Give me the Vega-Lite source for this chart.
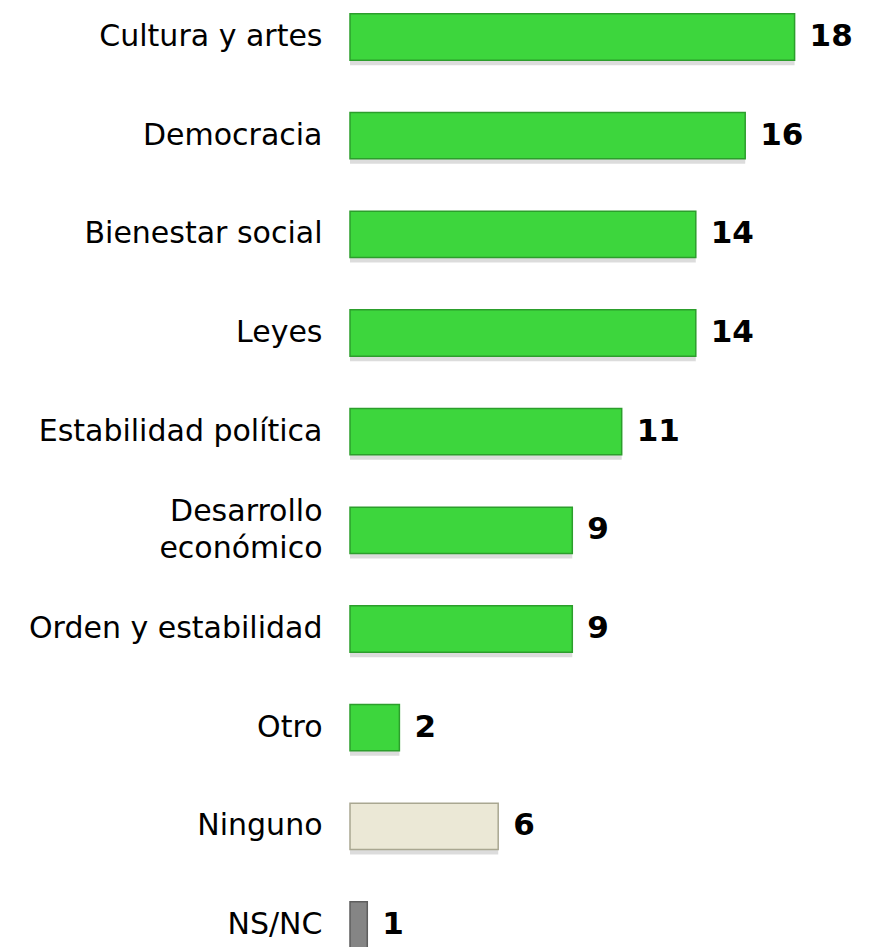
{
  "$schema": "https://vega.github.io/schema/vega-lite/v6.json",
  "autosize": "none",
  "padding": {"left": 350, "top": 0, "right": 27, "bottom": 0},
  "width": 494,
  "height": 962,
  "background": "white",
  "config": {"view": {"stroke": null}},
  "data": {
    "values": [
      {"categoria": "Cultura y artes", "valor": 18, "etiqueta": "18", "tipo": "tema"},
      {"categoria": "Democracia", "valor": 16, "etiqueta": "16", "tipo": "tema"},
      {"categoria": "Bienestar social", "valor": 14, "etiqueta": "14", "tipo": "tema"},
      {"categoria": "Leyes", "valor": 14, "etiqueta": "14", "tipo": "tema"},
      {"categoria": "Estabilidad política", "valor": 11, "etiqueta": "11", "tipo": "tema"},
      {"categoria": "Desarrollo\neconómico", "valor": 9, "etiqueta": "9", "tipo": "tema"},
      {"categoria": "Orden y estabilidad", "valor": 9, "etiqueta": "9", "tipo": "tema"},
      {"categoria": "Otro", "valor": 2, "etiqueta": "2", "tipo": "tema"},
      {"categoria": "Ninguno", "valor": 6, "etiqueta": "6", "tipo": "ninguno"},
      {"categoria": "NS/NC", "valor": 0.7, "etiqueta": "1", "tipo": "nsnc"}
    ]
  },
  "encoding": {
    "y": {
      "field": "categoria",
      "type": "nominal",
      "sort": null,
      "scale": {"paddingInner": 0.53, "paddingOuter": 0.14},
      "axis": {
        "title": null,
        "domain": false,
        "ticks": false,
        "labelPadding": 28,
        "labelFont": "DejaVu Sans",
        "labelFontSize": 30,
        "labelColor": "#000000",
        "labelLimit": 400,
        "labelLineHeight": 37,
        "labelOffset": {"condition": {"test": "indexof(datum.value, '\\n') >= 0", "value": -18}, "value": 0},
        "labelExpr": "split(datum.label, '\\n')"
      }
    },
    "x": {
      "field": "valor",
      "type": "quantitative",
      "scale": {"domain": [0, 20]},
      "axis": null
    }
  },
  "layer": [
    {
      "mark": {"type": "bar", "yOffset": 5, "color": "#9a9a9a", "opacity": 0.35}
    },
    {
      "mark": {"type": "bar", "strokeWidth": 1.5},
      "encoding": {
        "color": {
          "field": "tipo",
          "type": "nominal",
          "scale": {"domain": ["tema", "ninguno", "nsnc"], "range": ["#3dd63d", "#ebe8d6", "#858585"]},
          "legend": null
        },
        "stroke": {
          "field": "tipo",
          "type": "nominal",
          "scale": {"domain": ["tema", "ninguno", "nsnc"], "range": ["#2c9e2c", "#a9a791", "#5e5e5e"]},
          "legend": null
        }
      }
    },
    {
      "mark": {
        "type": "text",
        "align": "left",
        "baseline": "middle",
        "dx": 15,
        "font": "DejaVu Sans",
        "fontWeight": "bold",
        "fontSize": 31,
        "color": "#000000"
      },
      "encoding": {"text": {"field": "etiqueta", "type": "nominal"}}
    }
  ]
}
